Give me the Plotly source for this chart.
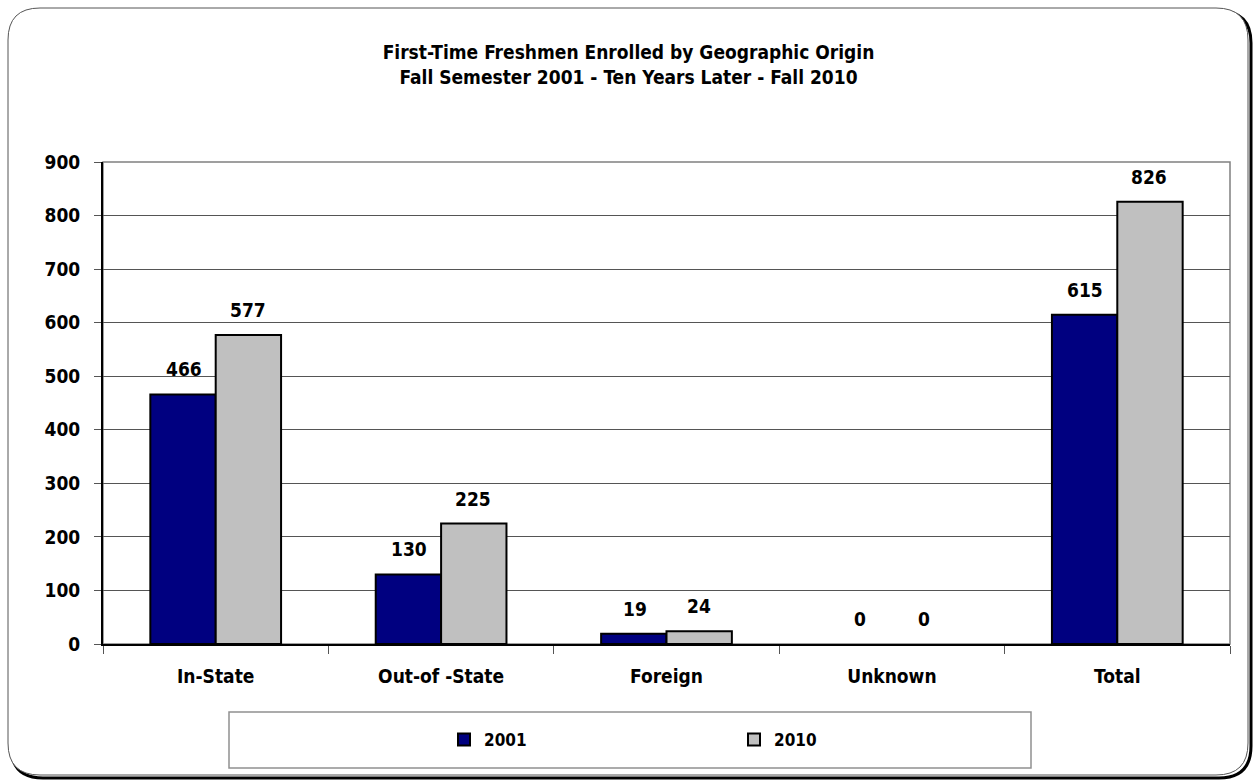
import plotly.graph_objects as go

categories = ["In-State", "Out-of -State", "Foreign", "Unknown", "Total"]
values_2001 = [466, 130, 19, 0, 615]
values_2010 = [577, 225, 24, 0, 826]
series_names = ["2001", "2010"]
y_ticks = [0, 100, 200, 300, 400, 500, 600, 700, 800, 900]

W, H = 1257, 782
L, R, T, B = 103, 27, 162, 138
PW, PH = W - L - R, H - T - B
FONT = "DejaVu Sans Condensed, Liberation Sans Narrow, Arial Narrow, sans-serif"


def px(x):
    return (x - L) / PW


def py(y):
    return (H - B - y) / PH


def rounded_path(x0, y0, x1, y1, r):
    rx, ry = r / PW, r / PH
    a, b, c, d = px(x0), py(y0), px(x1), py(y1)
    return (f"M {a+rx},{b} L {c-rx},{b} Q {c},{b} {c},{b-ry} "
            f"L {c},{d+ry} Q {c},{d} {c-rx},{d} L {a+rx},{d} "
            f"Q {a},{d} {a},{d+ry} L {a},{b-ry} Q {a},{b} {a+rx},{b} Z")


def outline_widths(vals):
    return [2 if v > 0 else 0 for v in vals]


fig = go.Figure()
fig.add_trace(go.Bar(x=categories, y=values_2001, name=series_names[0],
                     marker=dict(color="#000080",
                                 line=dict(color="black", width=outline_widths(values_2001)))))
fig.add_trace(go.Bar(x=categories, y=values_2010, name=series_names[1],
                     marker=dict(color="#C0C0C0",
                                 line=dict(color="black", width=outline_widths(values_2010)))))

annotations = []
for vals, shift in ((values_2001, -32), (values_2010, 32)):
    for c, v in zip(categories, vals):
        annotations.append(dict(x=c, y=v, xref="x", yref="y", text=f"<b>{v}</b>",
                                showarrow=False, xshift=shift, yshift=25,
                                font=dict(size=19, color="black", family=FONT)))

shapes = [
    # shadow
    dict(type="path", xref="paper", yref="paper", path=rounded_path(11, 11, 1251, 778, 32),
         line=dict(color="black", width=3), fillcolor="rgba(0,0,0,0)", layer="below"),
    dict(type="path", xref="paper", yref="paper", path=rounded_path(8, 8, 1248, 775, 32),
         line=dict(color="#555555", width=1), fillcolor="white", layer="below"),
    # plot area border
    dict(type="rect", xref="paper", yref="paper", x0=0, x1=1, y0=0, y1=1,
         line=dict(color="#808080", width=1.5), layer="below"),
    # legend box
    dict(type="rect", xref="paper", yref="paper", x0=px(229), x1=px(1031), y0=py(768), y1=py(712),
         line=dict(color="#909090", width=1.5), fillcolor="white", layer="below"),
]

fig.update_layout(
    width=W, height=H,
    margin=dict(l=L, r=R, t=T, b=B, autoexpand=False),
    paper_bgcolor="white", plot_bgcolor="rgba(0,0,0,0)",
    font=dict(family=FONT, size=19, color="black", weight="bold"),
    title=dict(text="<b>First-Time Freshmen Enrolled by Geographic Origin<br>Fall Semester 2001 - Ten Years Later - Fall 2010</b>",
               x=0.5, xref="container", xanchor="center", y=1 - 59 / H, yanchor="middle",
               font=dict(size=19, family=FONT)),
    barmode="group", bargap=0.42, bargroupgap=0,
    xaxis=dict(type="category", showline=True, linecolor="black", linewidth=2,
               tickson="boundaries", ticks="outside", ticklen=8, tickcolor="#555555",
               showgrid=False, tickfont=dict(size=19, weight="bold"), ticklabelstandoff=14),
    yaxis=dict(range=[0, 900], tickvals=y_ticks, showline=True, linecolor="black", linewidth=2,
               ticks="outside", ticklen=7, tickcolor="#555555", showgrid=True,
               gridcolor="#555555", gridwidth=1, zeroline=False,
               tickfont=dict(size=19, weight="bold"), ticklabelstandoff=10),
    legend=dict(orientation="h", x=px(444), xanchor="left", y=py(740), yanchor="middle",
                bgcolor="rgba(0,0,0,0)", font=dict(size=17, weight="bold"), entrywidth=245,
                traceorder="normal"),
    annotations=annotations, shapes=shapes,
)

fig.write_html("out.html", config={"displayModeBar": False},
               post_script="document.body.style.margin='0';document.body.style.overflow='hidden';")
